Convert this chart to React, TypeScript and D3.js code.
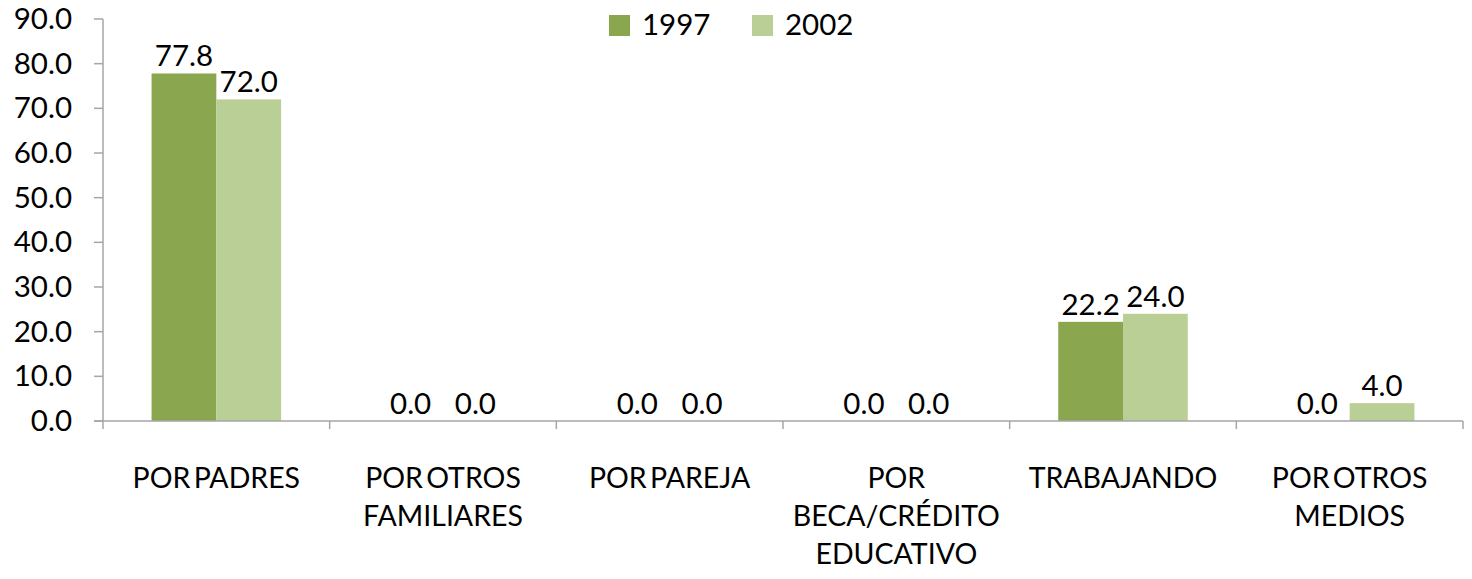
import * as d3 from "d3";
import React from "react";

// chart data
const categories = ["POR PADRES", "POR OTROS FAMILIARES", "POR PAREJA", "POR BECA/CRÉDITO EDUCATIVO", "TRABAJANDO", "POR OTROS MEDIOS"];
const categoryLines = [
  ["POR PADRES"],
  ["POR OTROS", "FAMILIARES"],
  ["POR PAREJA"],
  ["POR", "BECA/CRÉDITO", "EDUCATIVO"],
  ["TRABAJANDO"],
  ["POR OTROS", "MEDIOS"],
];
const seriesNames = ["1997", "2002"];
const values1997 = [77.8, 0.0, 0.0, 0.0, 22.2, 0.0];
const values2002 = [72.0, 0.0, 0.0, 0.0, 24.0, 4.0];
const yTicks = [0, 10, 20, 30, 40, 50, 60, 70, 80, 90];

const colors = { "1997": "#8aa64e", "2002": "#bacf96" };

const App = () => {
  const margin = { top: 19, left: 103, right: 9, bottom: 158 };
  const width = 1472;
  const height = 579;
  const axisColor = "#a6a6a6";
  const font = "Lato, 'Open Sans', sans-serif";

  const xScale = d3.scaleBand().domain(categories).range([margin.left, width - margin.right]).paddingInner(0).paddingOuter(0);
  const xInner = d3.scaleBand().domain(seriesNames).range([0, xScale.bandwidth()]).paddingInner(0).paddingOuter(0.75);
  const yScale = d3.scaleLinear().domain([0, 90]).range([height - margin.bottom, margin.top]);
  const y0 = yScale(0);

  const series = [
    { name: "1997", values: values1997 },
    { name: "2002", values: values2002 },
  ];

  const boundaries = categories.map((c) => xScale(c)).concat([xScale(categories[categories.length - 1]) + xScale.bandwidth()]);

  return (
    <svg width={width} height={height} style={{ position: "absolute", left: 0, top: 0, background: "#fff" }}>
      {/* bars */}
      {series.map((s) =>
        s.values.map((v, i) => {
          const x = xScale(categories[i]) + xInner(s.name);
          return (
            <g key={s.name + i}>
              <rect x={x} y={yScale(v)} width={xInner.bandwidth()} height={y0 - yScale(v)} fill={colors[s.name]} />
              <text
                x={x + xInner.bandwidth() / 2}
                y={yScale(v) - 7}
                textAnchor="middle"
                fontFamily={font}
                fontSize={29.5}
                fill="#000"
              >
                {d3.format(".1f")(v)}
              </text>
            </g>
          );
        })
      )}

      {/* y axis */}
      <line x1={margin.left} x2={margin.left} y1={yScale(90)} y2={y0} stroke={axisColor} strokeWidth={1.5} />
      {yTicks.map((t) => (
        <g key={t}>
          <line x1={margin.left - 9} x2={margin.left} y1={yScale(t)} y2={yScale(t)} stroke={axisColor} strokeWidth={1.5} />
          <text x={72} y={yScale(t) + 10} textAnchor="end" fontFamily={font} fontSize={29.5} fill="#000">
            {d3.format(".1f")(t)}
          </text>
        </g>
      ))}

      {/* x axis */}
      <line x1={margin.left - 9} x2={width - margin.right} y1={y0} y2={y0} stroke={axisColor} strokeWidth={1.5} />
      {boundaries.map((b, i) => (
        <line key={i} x1={b} x2={b} y1={y0} y2={y0 + 8} stroke={axisColor} strokeWidth={1.5} />
      ))}
      {categories.map((c, i) => (
        <text key={c} textAnchor="middle" fontFamily={font} fontSize={28.5} fill="#000" wordSpacing="-4px">
          {categoryLines[i].map((line, j) => (
            <tspan key={j} x={xScale(c) + xScale.bandwidth() / 2} y={488 + j * 38}>
              {line}
            </tspan>
          ))}
        </text>
      ))}

      {/* legend */}
      {seriesNames.map((n, i) => (
        <g key={n} transform={`translate(${609 + i * 143}, 15)`}>
          <rect x={0} y={0} width={21} height={21} fill={colors[n]} />
          <text x={33} y={20} fontFamily={font} fontSize={29.5} fill="#000">
            {n}
          </text>
        </g>
      ))}
    </svg>
  );
};

export default App;
